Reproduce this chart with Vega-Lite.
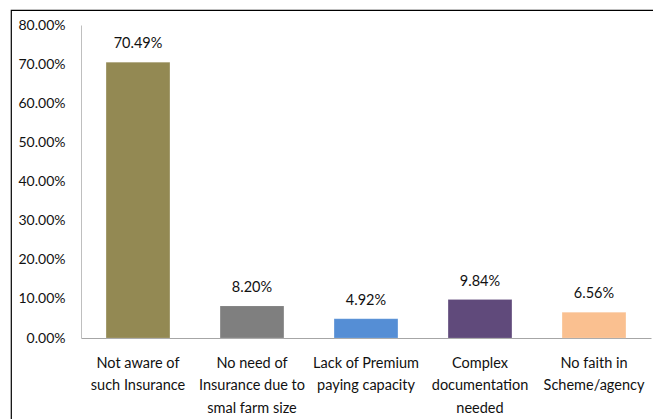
{
  "$schema": "https://vega.github.io/schema/vega-lite/v6.json",
  "width": 660,
  "height": 420,
  "autosize": "none",
  "padding": {"left": 11, "top": 10, "right": 0, "bottom": 0},
  "background": "white",
  "config": {
    "view": {"stroke": "#000000", "strokeWidth": 1.2},
    "font": "Lato"
  },
  "data": {
    "values": [
      {"reason": "Not aware of|such Insurance", "pct": 0.7049},
      {"reason": "No need of|Insurance due to|smal farm size", "pct": 0.082},
      {"reason": "Lack of Premium|paying capacity", "pct": 0.0492},
      {"reason": "Complex|documentation|needed", "pct": 0.0984},
      {"reason": "No faith in|Scheme/agency", "pct": 0.0656}
    ]
  },
  "encoding": {
    "x": {
      "field": "reason",
      "type": "nominal",
      "sort": null,
      "scale": {"range": [70, 640], "paddingInner": 0.44, "paddingOuter": 0.22},
      "axis": {
        "orient": "bottom",
        "offset": -92,
        "title": null,
        "labelAngle": 0,
        "ticks": false,
        "domainColor": "#A6A6A6",
        "domainWidth": 1,
        "labelExpr": "split(datum.label, '|')",
        "labelLineHeight": 22.5,
        "labelPadding": 18,
        "labelFontSize": 14.5,
        "labelColor": "#111111",
        "labelLimit": 0,
        "labelOverlap": false,
        "grid": false
      }
    },
    "y": {
      "field": "pct",
      "type": "quantitative",
      "scale": {"domain": [0, 0.8], "range": [328, 15], "nice": false, "zero": true},
      "axis": {
        "offset": -70,
        "title": null,
        "ticks": false,
        "grid": false,
        "domainColor": "#BFBFBF",
        "domainWidth": 1,
        "labelPadding": 16,
        "format": ".2%",
        "values": [0, 0.1, 0.2, 0.3, 0.4, 0.5, 0.6, 0.7, 0.8],
        "labelFontSize": 14,
        "labelColor": "#111111",
        "labelFlush": false,
        "labelOverlap": false
      }
    }
  },
  "layer": [
    {
      "mark": {"type": "bar", "stroke": "#ffffff", "strokeOpacity": 0.3, "strokeWidth": 0.5},
      "encoding": {
        "color": {
          "field": "reason",
          "type": "nominal",
          "sort": null,
          "scale": {"range": ["#938953", "#7F7F7F", "#558ED5", "#604A7B", "#FAC090"]},
          "legend": null
        }
      }
    },
    {
      "mark": {"type": "text", "baseline": "middle", "align": "center", "dy": -18, "fontSize": 14.5, "color": "#111111"},
      "encoding": {
        "text": {"field": "pct", "type": "quantitative", "format": ".2%"}
      }
    }
  ]
}
